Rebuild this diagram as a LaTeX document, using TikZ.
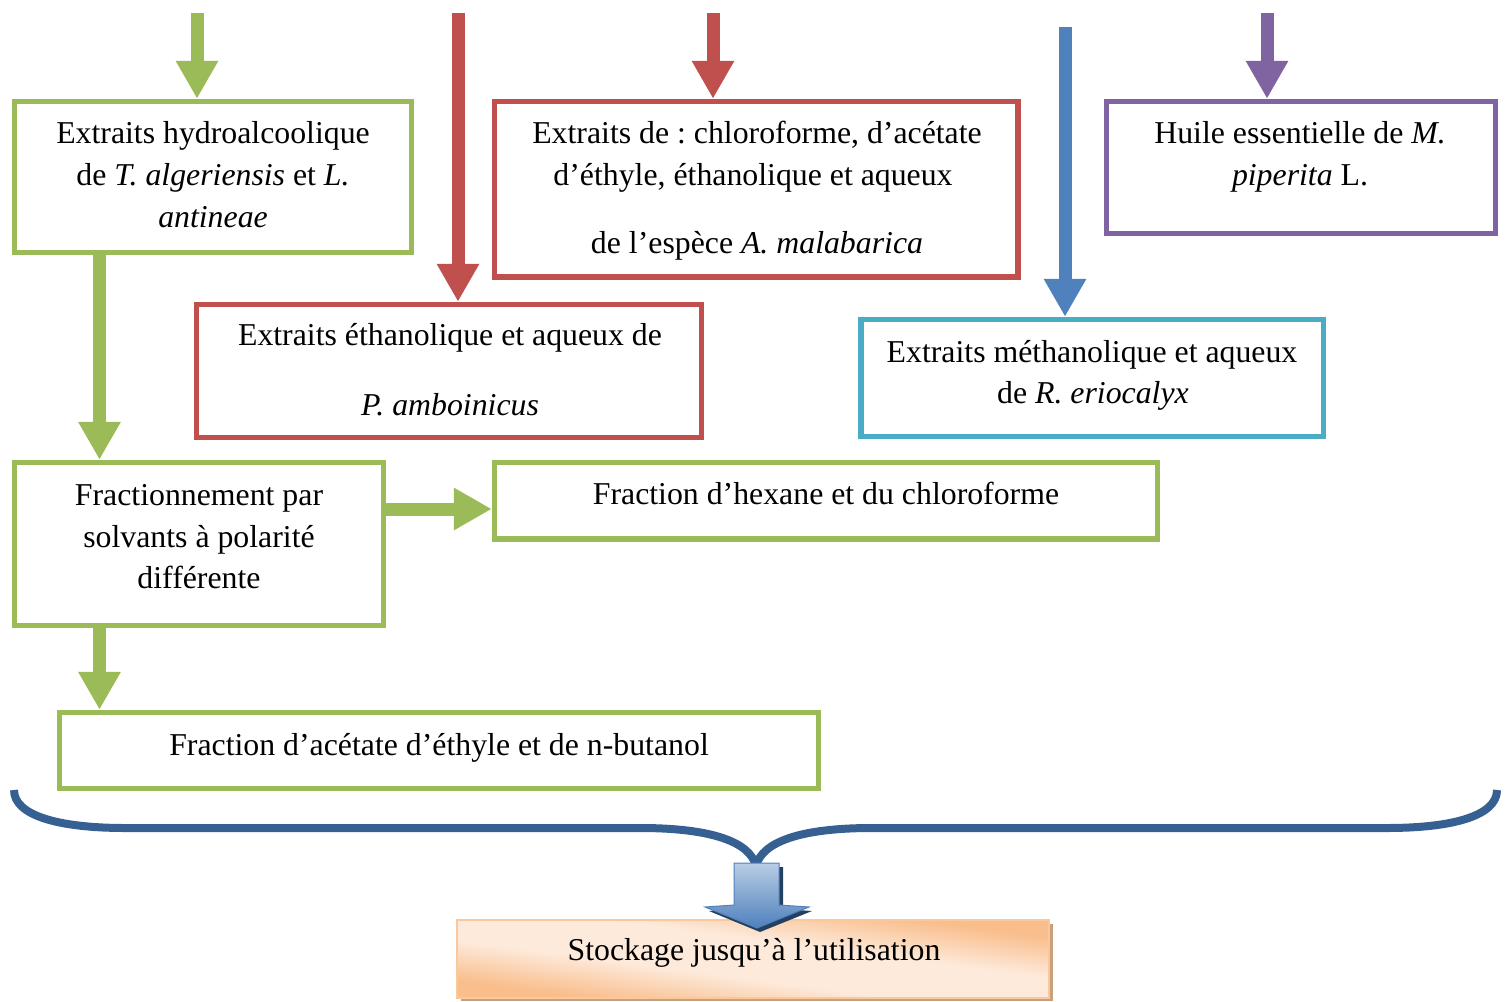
\documentclass[tikz,border=0pt]{standalone}
\usepackage{fontspec}
\setmainfont{Liberation Serif}
\usetikzlibrary{arrows.meta,shadings}
\frenchspacing
\definecolor{cgreen}{HTML}{9BBB59}
\definecolor{cred}{HTML}{C0504D}
\definecolor{cblue}{HTML}{4F81BD}
\definecolor{cpurple}{HTML}{8064A2}
\definecolor{ccyan}{HTML}{4BACC6}
\definecolor{cbrace}{HTML}{376092}
\definecolor{cshadow}{HTML}{244061}
\definecolor{corange}{HTML}{F9BE8C}
\definecolor{clight}{HTML}{FDEADB}
\definecolor{ctan}{HTML}{C8A07C}
\pgfdeclareverticalshading{orangeband}{100bp}{color(0bp)=(corange); color(35bp)=(corange); color(45bp)=(clight); color(55bp)=(clight); color(65bp)=(corange); color(100bp)=(corange)}
\tikzset{
  boxnode/.style={draw=#1, line width=5.5pt, rectangle, inner sep=0pt},
  bigarrow/.style={draw=#1, line width=13pt, -{Triangle[width=40pt,length=38pt,fill=#1]}, shorten >=0pt},
  txt/.style={anchor=base, inner sep=0pt, font=\fontsize{31.8}{42}\selectfont},
}
\begin{document}
\begin{tikzpicture}[x=1pt,y=-1pt]
\useasboundingbox (0,0) rectangle (1509,1001);

% boxes
\node[boxnode=cgreen, minimum width=397, minimum height=151] (b1) at (213,177) {};
\node[boxnode=cred, minimum width=505, minimum height=133] (b2) at (449,371) {};
\node[boxnode=cred, minimum width=523.5, minimum height=175.5] (b3) at (756.25,189.25) {};
\node[boxnode=cpurple, minimum width=389, minimum height=132] (b7) at (1301,167.5) {};
\node[boxnode=ccyan, minimum width=462.5, minimum height=117] (b8) at (1092.25,378) {};
\node[boxnode=cgreen, minimum width=369, minimum height=163] (b4) at (199,544) {};
\node[boxnode=cgreen, minimum width=663, minimum height=76.5] (b5) at (826,500.75) {};
\node[boxnode=cgreen, minimum width=759, minimum height=76] (b6) at (439,750.5) {};

% texts
\node[txt] (t1a) at (213,143) {Extraits hydroalcoolique};
\node[txt] (t1b) at (213,185) {de \textit{T. algeriensis} et \textit{L.}};
\node[txt] (t1c) at (213,227) {\textit{antineae}};
\node[txt] (t2a) at (450,345) {Extraits éthanolique et aqueux de};
\node[txt] (t2b) at (450,415) {\textit{P. amboinicus}};
\node[txt] (t3a) at (757,143) {Extraits de : chloroforme, d’acétate};
\node[txt] (t3b) at (753,185) {d’éthyle, éthanolique et aqueux};
\node[txt] (t3c) at (757,253) {de l’espèce \textit{A. malabarica}};
\node[txt] (t7a) at (1300,143) {Huile essentielle de \textit{M.}};
\node[txt] (t7b) at (1300,185) {\textit{piperita} L.};
\node[txt] (t8a) at (1092,362) {Extraits méthanolique et aqueux};
\node[txt] (t8b) at (1093,403) {de \textit{R. eriocalyx}};
\node[txt] (t4a) at (199,505) {Fractionnement par};
\node[txt] (t4b) at (199,547) {solvants à polarité};
\node[txt] (t4c) at (199,588) {différente};
\node[txt] (t5) at (826,504) {Fraction d’hexane et du chloroforme};
\node[txt] (t6) at (439,755) {Fraction d’acétate d’éthyle et de n-butanol};

% arrow start points
\coordinate (s1) at (197,13);
\coordinate (s2) at (458,13);
\coordinate (s3) at (713,13);
\coordinate (s4) at (1065,27);
\coordinate (s5) at (1267,13);

\draw[bigarrow=cgreen] (s1) -- (s1 |- b1.north);
\draw[bigarrow=cred] (s2) -- (s2 |- b2.north);
\draw[bigarrow=cred] (s3) -- (s3 |- b3.north);
\draw[bigarrow=cblue] (s4) -- (s4 |- b8.north);
\draw[bigarrow=cpurple] (s5) -- (s5 |- b7.north);

\draw[bigarrow=cgreen] (b1.south -| 99.5,0) -- (b4.north -| 99.5,0);
\draw[bigarrow=cgreen] (b4.east |- 0,509) -- (b5.west |- 0,509);
\draw[bigarrow=cgreen] (b4.south -| 99.5,0) -- (b6.north -| 99.5,0);

% brace
\draw[cbrace, line width=8pt, line join=round]
  (14,790) .. controls (14,816) and (60,828) .. (125,828)
  -- (640,828) .. controls (712,828) and (750,842) .. (756,866)
  .. controls (762,842) and (800,828) .. (872,828)
  -- (1387,828) .. controls (1452,828) and (1497,816) .. (1497,790);

% storage box
\fill[ctan] (461,924) rectangle (1053,1001);
\begin{scope}
  \clip (457,920) rectangle (1049,998);
  \begin{scope}[transform canvas={rotate around={-7.5:(753,959)}}]
    \shade[shading=orangeband] (303,859) rectangle (1203,1059);
  \end{scope}
\end{scope}
\node[draw=corange!85!white, line width=1.2pt, minimum width=592, minimum height=78, inner sep=0pt] (st) at (753,959) {};
\node[txt] (tst) at (754,960) {Stockage jusqu’à l’utilisation};

% block arrow (shadow then body)
\fill[cshadow] (738,867) -- (783,867) -- (783,909) -- (812,911) -- (760,932) -- (709,911) -- (738,909) -- cycle;
\shade[top color=cblue!40!white, bottom color=cblue, draw=cblue, line width=1pt]
  (734,863) -- (779,863) -- (779,905) -- (809,907) -- (757,928) -- (705,907) -- (734,905) -- cycle;
\end{tikzpicture}
\end{document}
